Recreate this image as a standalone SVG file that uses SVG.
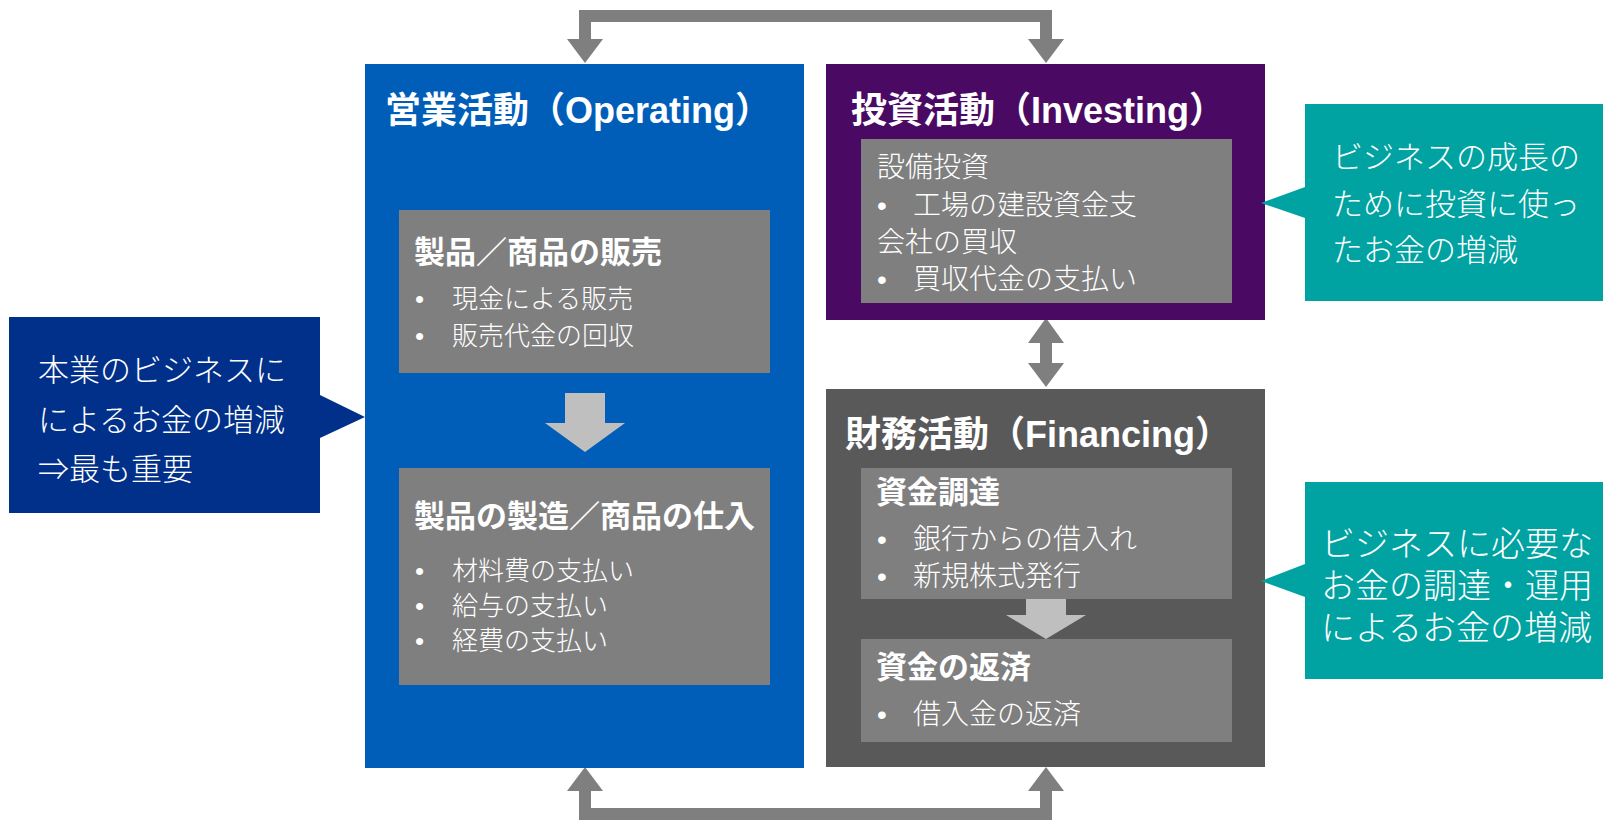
<svg xmlns="http://www.w3.org/2000/svg" width="1603" height="820" viewBox="0 0 1603 820">
<style>
text{font-family:"Liberation Sans","Noto Sans CJK JP",sans-serif;fill:#fff}
.title{font-size:36px;font-weight:bold}
.head{font-size:31px;font-weight:bold}
.body{font-size:26px;font-weight:300}
.call{font-size:31px;font-weight:300}
.inner{fill:#7f7f7f}
.conn{fill:#7f7f7f}
.flow{fill:#bfbfbf}
.teal{fill:#00a3a1}
</style>
<rect width="1603" height="820" fill="#fff"/>
<g id="connectors">
<path class="conn" d="M579,39 L579,10 L1052,10 L1052,39 L1064,39 L1046,63 L1028,39 L1040,39 L1040,22 L591,22 L591,39 L603,39 L585,63 L567,39 Z"/>
<path class="conn" d="M579,791 L579,820 L1052,820 L1052,791 L1064,791 L1046,767 L1028,791 L1040,791 L1040,808 L591,808 L591,791 L603,791 L585,767 L567,791 Z"/>
<path class="conn" d="M1046,318 L1064,343 L1052,343 L1052,363 L1064,363 L1046,387 L1028,363 L1040,363 L1040,343 L1028,343 Z"/>
</g>
<g id="operating">
<rect x="365" y="64" width="439" height="704" fill="#005eb8"/>
<text class="title" x="385" y="123">営業活動（Operating）</text>
<rect class="inner" x="399" y="210" width="371" height="163"/>
<text class="head" x="414" y="263">製品／商品の販売</text>
<text class="body" x="415" y="308">•</text>
<text class="body" x="452" y="308">現金による販売</text>
<text class="body" x="415" y="345">•</text>
<text class="body" x="452" y="345">販売代金の回収</text>
<path class="flow" d="M565,393 L605,393 L605,423 L625,423 L585,452 L545,423 L565,423 Z"/>
<rect class="inner" x="399" y="468" width="371" height="217"/>
<text class="head" x="414" y="527">製品の製造／商品の仕入</text>
<text class="body" x="415" y="580">•</text>
<text class="body" x="452" y="580">材料費の支払い</text>
<text class="body" x="415" y="615">•</text>
<text class="body" x="452" y="615">給与の支払い</text>
<text class="body" x="415" y="650">•</text>
<text class="body" x="452" y="650">経費の支払い</text>
</g>
<g id="investing">
<rect x="826" y="64" width="439" height="256" fill="#4a0a64"/>
<text class="title" x="851" y="123">投資活動（Investing）</text>
<rect class="inner" x="861" y="139" width="371" height="164"/>
<text class="body" x="877" y="177" style="font-size:28px">設備投資</text>
<text class="body" x="877" y="215" style="font-size:28px">•</text>
<text class="body" x="913" y="215" style="font-size:28px">工場の建設資金支</text>
<text class="body" x="877" y="252" style="font-size:28px">会社の買収</text>
<text class="body" x="877" y="289" style="font-size:28px">•</text>
<text class="body" x="913" y="289" style="font-size:28px">買収代金の支払い</text>
</g>
<g id="financing">
<rect x="826" y="389" width="439" height="378" fill="#595959"/>
<text class="title" x="845" y="447">財務活動（Financing）</text>
<rect class="inner" x="861" y="468" width="371" height="131"/>
<text class="head" x="876" y="503">資金調達</text>
<text class="body" x="877" y="549" style="font-size:28px">•</text>
<text class="body" x="913" y="549" style="font-size:28px">銀行からの借入れ</text>
<text class="body" x="877" y="586" style="font-size:28px">•</text>
<text class="body" x="913" y="586" style="font-size:28px">新規株式発行</text>
<path class="flow" d="M1026,599 L1066,599 L1066,615 L1086,615 L1046,639 L1006,615 L1026,615 Z"/>
<rect class="inner" x="861" y="639" width="371" height="103"/>
<text class="head" x="876" y="678">資金の返済</text>
<text class="body" x="877" y="724" style="font-size:28px">•</text>
<text class="body" x="913" y="724" style="font-size:28px">借入金の返済</text>
</g>
<g id="callout-operating">
<path fill="#00308a" d="M9,317 L320,317 L320,395 L365,417 L320,438 L320,513 L9,513 Z"/>
<text class="call" x="38" y="381">本業のビジネスに</text>
<text class="call" x="38" y="431">によるお金の増減</text>
<text class="call" x="38" y="480">⇒最も重要</text>
</g>
<g id="callout-investing">
<path class="teal" d="M1305,104 L1603,104 L1603,301 L1305,301 L1305,218 L1261,203 L1305,187 Z"/>
<text class="call" x="1332" y="168">ビジネスの成長の</text>
<text class="call" x="1332" y="215">ために投資に使っ</text>
<text class="call" x="1332" y="261">たお金の増減</text>
</g>
<g id="callout-financing">
<path class="teal" d="M1305,482 L1603,482 L1603,679 L1305,679 L1305,597 L1261,581 L1305,564 Z"/>
<text class="call" x="1321" y="556" style="font-size:34px">ビジネスに必要な</text>
<text class="call" x="1321" y="598" style="font-size:34px">お金の調達・運用</text>
<text class="call" x="1321" y="640" style="font-size:34px">によるお金の増減</text>
</g>
</svg>
